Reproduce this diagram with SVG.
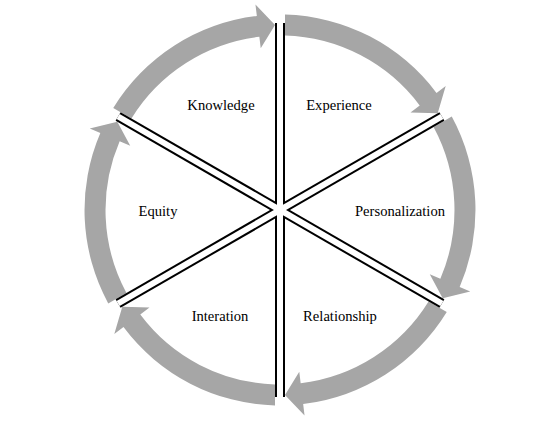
<svg xmlns="http://www.w3.org/2000/svg" width="533" height="425" viewBox="0 0 533 425">
<defs>
<style>
.arc{fill:#a6a6a6;stroke:none}
.sb{stroke:#000;stroke-width:10;fill:none}
.sw{stroke:#fff;stroke-width:6;fill:none}
.lbl{font-family:"Liberation Serif","Times New Roman",serif;font-size:14.6px;fill:#000;text-anchor:middle}
</style>
<path id="arcShape" class="arc" d="M5,-195.44 A195.5,195.5 0 0 1 156.5,-117.1 L165.7,-124 L157.7,-96.8 L130.5,-97.6 L139.7,-104.5 A174.5,174.5 0 0 0 5,-174.43 Z"/>
</defs>
<rect width="533" height="425" fill="#fff"/>
<g id="arrows" transform="translate(280,210)">
<use href="#arcShape"/>
<use href="#arcShape" transform="rotate(60)"/>
<use href="#arcShape" transform="rotate(120)"/>
<use href="#arcShape" transform="rotate(180)"/>
<use href="#arcShape" transform="rotate(240)"/>
<use href="#arcShape" transform="rotate(300)"/>
</g>
<g id="connectors">
<line class="sb" x1="280" y1="23" x2="280" y2="397"/>
<line class="sb" x1="441.9" y1="116.5" x2="118.1" y2="303.5"/>
<line class="sb" x1="441.9" y1="303.5" x2="118.1" y2="116.5"/>
<line class="sw" x1="280" y1="23" x2="280" y2="397"/>
<line class="sw" x1="441.9" y1="116.5" x2="118.1" y2="303.5"/>
<line class="sw" x1="441.9" y1="303.5" x2="118.1" y2="116.5"/>
</g>
<g id="knowledge"><text class="lbl" x="221" y="110">Knowledge</text></g>
<g id="experience"><text class="lbl" x="339" y="110">Experience</text></g>
<g id="personalization"><text class="lbl" x="400" y="216">Personalization</text></g>
<g id="relationship"><text class="lbl" x="340" y="321">Relationship</text></g>
<g id="interation"><text class="lbl" x="220" y="321">Interation</text></g>
<g id="equity"><text class="lbl" x="158" y="216">Equity</text></g>
</svg>
